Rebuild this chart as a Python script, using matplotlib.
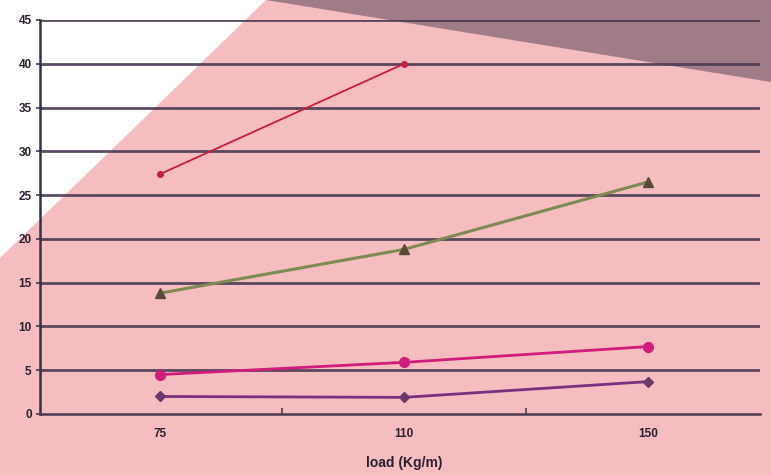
import matplotlib
matplotlib.use("Agg")
import matplotlib.pyplot as plt
from matplotlib.patches import Polygon

plt.rcParams["font.family"] = ["Liberation Sans", "DejaVu Sans"]

# Data
categories = ["75", "110", "150"]
red_vals = [27.4, 40.0]
green_vals = [13.8, 18.8, 26.5]
magenta_vals = [4.5, 5.9, 7.7]
purple_vals = [2.0, 1.9, 3.7]
y_ticks = [0, 5, 10, 15, 20, 25, 30, 35, 40, 45]

W, H = 771, 475
fig = plt.figure(figsize=(W / 100, H / 100), dpi=100)
fig.patch.set_facecolor("#f5bdc0")

# background regions
fig.add_artist(Polygon([(0, 1), (266 / W, 1), (0, 1 - 258 / H)], closed=True,
                       transform=fig.transFigure, facecolor="white", edgecolor="none", zorder=0))
fig.add_artist(Polygon([(266 / W, 1), (1, 1), (1, 1 - 82 / H)], closed=True,
                       transform=fig.transFigure, facecolor="#a07b88", edgecolor="none", zorder=0))

ax = fig.add_axes([40 / W, 1 - 414 / H, 720 / W, 394 / H])
ax.set_facecolor("none")
ax.set_zorder(2)

x = list(range(len(categories)))
grid_c = "#4a3a52"
for v in y_ticks[1:]:
    ax.axhline(v, color=grid_c, lw=2.0, zorder=1, alpha=0.9)

ax.plot(x[:len(red_vals)], red_vals, color="#c81e3c", lw=1.3, marker="o", ms=4, zorder=3)
ax.plot(x, green_vals, color="#7d8a52", lw=2.2, marker="^", ms=7, mfc="#5a4a3a", mec="#5a4a3a", zorder=3)
ax.plot(x, magenta_vals, color="#d01c7c", lw=2.0, marker="o", ms=7, zorder=3)
ax.plot(x, purple_vals, color="#7a2f80", lw=2.0, marker="D", ms=5, mfc="#6a3a6a", mec="#6a3a6a", zorder=3)

ax.set_xlim(-0.492, 2.459)
ax.set_ylim(0, 45)
ax.set_yticks(y_ticks)
ax.set_yticklabels([str(v) for v in y_ticks], fontsize=8.5, fontweight="bold", color="#2a2030")
ax.set_xticks([0.5, 1.5])
ax.set_xticklabels(["", ""])
ax.tick_params(axis="x", direction="in", length=4, width=1.2, color=grid_c)
ax.tick_params(axis="y", direction="out", length=3, width=1.2, color=grid_c, pad=3)
for xi, lab in zip(x, categories):
    ax.text(xi, -1.6, lab, ha="center", va="top", fontsize=8.5, fontweight="bold", color="#2a2030")
ax.text(1, -4.8, "load (Kg/m)", ha="center", va="top", fontsize=10, fontweight="bold", color="#2a2030")

for s in ["top", "right"]:
    ax.spines[s].set_visible(False)
ax.spines["left"].set_color("#2e3448")
ax.spines["left"].set_linewidth(1.8)
ax.spines["bottom"].set_color(grid_c)
ax.spines["bottom"].set_linewidth(1.8)

fig.savefig("out.png", dpi=100, facecolor=fig.get_facecolor())
